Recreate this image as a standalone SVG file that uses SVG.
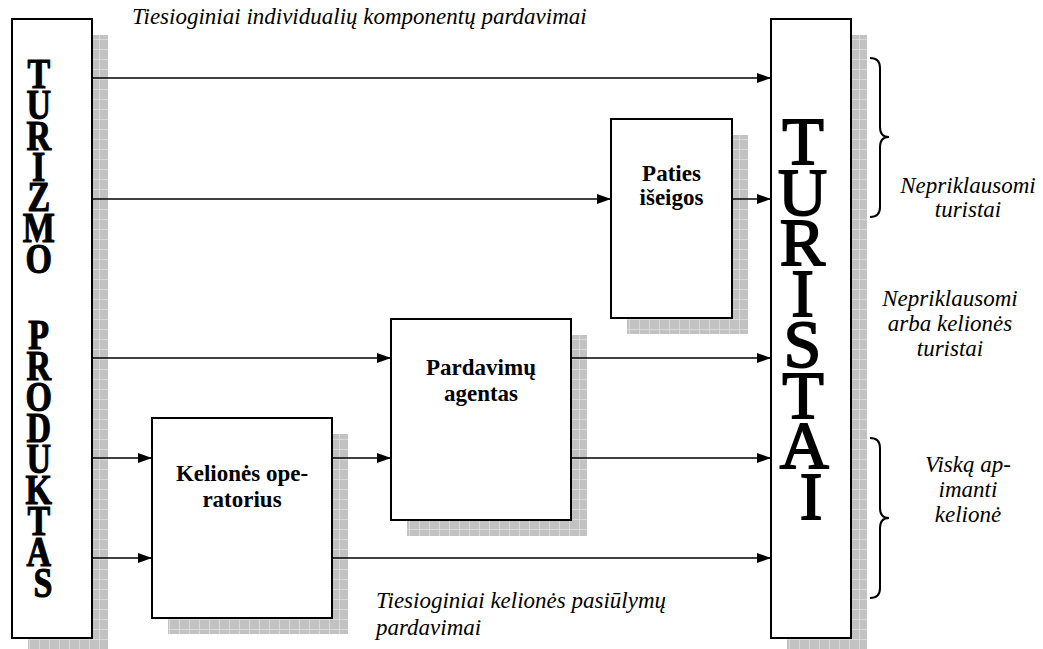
<svg xmlns="http://www.w3.org/2000/svg" width="1043" height="649" viewBox="0 0 1043 649">
  <defs>
    <!-- hatched grey used for the drop shadows -->
    <pattern id="grid" patternUnits="userSpaceOnUse" width="10" height="10">
      <rect width="10" height="10" fill="#c2c2c2"/>
      <path d="M0 9.5H10M9.5 0V10" stroke="#dadada" stroke-width="1"/>
    </pattern>
    <marker id="arrow" markerUnits="userSpaceOnUse" markerWidth="14" markerHeight="10" refX="14" refY="5" orient="auto">
      <path d="M0 0L14 5L0 10Z" fill="#000"/>
    </marker>
  </defs>
  <style>
    .box { fill: #fff; stroke: #000; stroke-width: 2; }
    .shadow { fill: url(#grid); }
    .lbl { font-family: "Liberation Serif", "Times New Roman", serif; font-size: 23px; font-weight: bold; fill: #000; text-anchor: middle; }
    .note { font-family: "Liberation Serif", "Times New Roman", serif; font-size: 23px; font-style: italic; fill: #000; }
    .mid { text-anchor: middle; }
    .tall { font-family: "Liberation Serif", "Times New Roman", serif; fill: #000; stroke: #000; text-anchor: middle; }
    .conn line { stroke: #000; stroke-width: 1.5; marker-end: url(#arrow); }
    .brace { fill: none; stroke: #000; stroke-width: 2; }
  </style>
  <rect width="1043" height="649" fill="#fff"/>

  <!-- source column -->
  <g id="turizmo-produktas">
    <rect class="shadow" x="28" y="35" width="80" height="619"/>
    <rect class="box" x="12" y="19" width="80" height="619"/>
    <g transform="scale(1,1.25)">
      <text class="tall" font-size="34" font-weight="bold" stroke-width="0.9">
        <tspan x="43" y="70.4">T</tspan>
        <tspan x="43" y="95.2">U</tspan>
        <tspan x="43" y="120">R</tspan>
        <tspan x="43" y="144.8">I</tspan>
        <tspan x="43" y="168.8">Z</tspan>
        <tspan x="43" y="193.6">M</tspan>
        <tspan x="43" y="218.4">O</tspan>
        <tspan x="43" y="279.2">P</tspan>
        <tspan x="43" y="304">R</tspan>
        <tspan x="43" y="328.8">O</tspan>
        <tspan x="43" y="353.6">D</tspan>
        <tspan x="43" y="378.4">U</tspan>
        <tspan x="43" y="403.2">K</tspan>
        <tspan x="43" y="428">T</tspan>
        <tspan x="43" y="452.8">A</tspan>
        <tspan x="43" y="477.6">S</tspan>
      </text>
    </g>
  </g>

  <!-- target column -->
  <g id="turistai">
    <rect class="shadow" x="787" y="35" width="80" height="619"/>
    <rect class="box" x="771" y="19" width="80" height="619"/>
    <text class="tall" font-size="68" stroke-width="1.8">
      <tspan x="811" y="164">T</tspan>
      <tspan x="811" y="215">U</tspan>
      <tspan x="811" y="265">R</tspan>
      <tspan x="811" y="316">I</tspan>
      <tspan x="811" y="367">S</tspan>
      <tspan x="811" y="418">T</tspan>
      <tspan x="811" y="468">A</tspan>
      <tspan x="811" y="519">I</tspan>
    </text>
  </g>

  <g id="paties-iseigos">
    <rect class="shadow" x="627" y="135" width="121" height="199"/>
    <rect class="box" x="611" y="119" width="121" height="199"/>
    <text class="lbl"><tspan x="671.5" y="181">Paties</tspan><tspan x="671.5" y="205">išeigos</tspan></text>
  </g>

  <g id="pardavimu-agentas">
    <rect class="shadow" x="407" y="335" width="180" height="201"/>
    <rect class="box" x="391" y="319" width="180" height="201"/>
    <text class="lbl"><tspan x="481" y="375">Pardavimų</tspan><tspan x="481" y="401">agentas</tspan></text>
  </g>

  <g id="keliones-operatorius">
    <rect class="shadow" x="168" y="434" width="180" height="200"/>
    <rect class="box" x="152" y="418" width="180" height="200"/>
    <text class="lbl"><tspan x="242" y="481">Kelionės ope-</tspan><tspan x="242" y="507">ratorius</tspan></text>
  </g>

  <!-- flows -->
  <g id="connectors" class="conn">
    <line x1="92" y1="78" x2="771" y2="78"/>
    <line x1="92" y1="199" x2="611" y2="199"/>
    <line x1="732" y1="199" x2="771" y2="199"/>
    <line x1="92" y1="358" x2="391" y2="358"/>
    <line x1="571" y1="358" x2="771" y2="358"/>
    <line x1="92" y1="458" x2="152" y2="458"/>
    <line x1="332" y1="458" x2="391" y2="458"/>
    <line x1="571" y1="458" x2="771" y2="458"/>
    <line x1="92" y1="558" x2="152" y2="558"/>
    <line x1="332" y1="558" x2="771" y2="558"/>
  </g>

  <!-- traveller groupings -->
  <g id="braces">
    <path class="brace" d="M870 58Q880 58 880 68V127Q880 137 889 137Q880 137 880 147V207Q880 217 870 217"/>
    <path class="brace" d="M870 438Q880 438 880 448V508Q880 518 889 518Q880 518 880 528V588Q880 598 870 598"/>
  </g>

  <g id="notes">
    <text class="note" x="132" y="24">Tiesioginiai individualių komponentų pardavimai</text>
    <text class="note"><tspan x="376" y="608">Tiesioginiai kelionės pasiūlymų</tspan><tspan x="376" y="635">pardavimai</tspan></text>
    <text class="note mid"><tspan x="968" y="193">Nepriklausomi</tspan><tspan x="968" y="217">turistai</tspan></text>
    <text class="note mid"><tspan x="950" y="306">Nepriklausomi</tspan><tspan x="950" y="331">arba kelionės</tspan><tspan x="950" y="356">turistai</tspan></text>
    <text class="note mid"><tspan x="968" y="472">Viską ap-</tspan><tspan x="968" y="497">imanti</tspan><tspan x="968" y="522">kelionė</tspan></text>
  </g>
</svg>
